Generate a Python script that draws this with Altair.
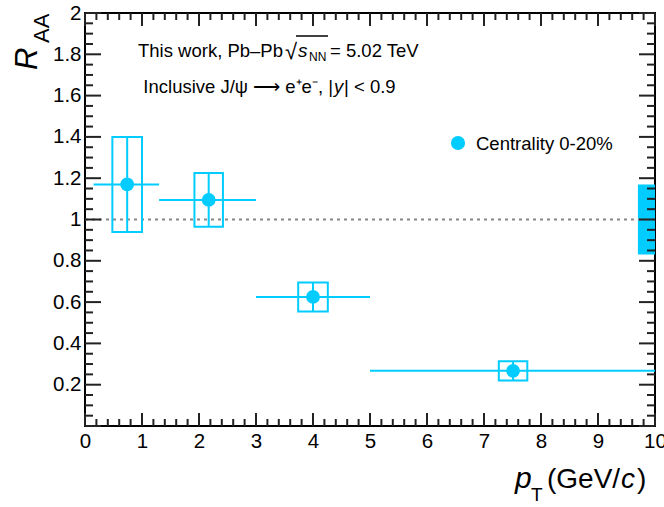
import altair as alt
import pandas as pd

# ---------------- data ----------------
pt = [0.74, 2.17, 4.0, 7.51]
raa = [1.17, 1.095, 0.625, 0.267]
pt_lo = [0.15, 1.3, 3.0, 5.0]
pt_hi = [1.3, 3.0, 5.0, 10.0]
stat_err = [0.23, 0.13, 0.07, 0.047]
syst_err = [0.23, 0.13, 0.07, 0.047]
box_half = [0.26, 0.25, 0.26, 0.25]
global_unc = 0.17
global_box_x = [9.7, 10.0]
ref_level = 1.0

x_major = list(range(0, 11))
x_minor = [round(i * 0.2, 2) for i in range(51) if i % 5]
y_major = [round(i * 0.2, 2) for i in range(11)]
y_minor = [round(i * 0.05, 2) for i in range(41) if i % 4]
y_labels = y_major[1:]

# ---------------- layout ----------------
W, H = 570, 413
PL, PT, PR, PB = 85, 13, 9, 81
C = "#00ccff"
TC = "#222222"
FONT = "Liberation Sans, Arial, sans-serif"

df = pd.DataFrame({
    "pt": pt, "raa": raa, "lo": pt_lo, "hi": pt_hi,
    "stat_lo": [r - e for r, e in zip(raa, stat_err)],
    "stat_hi": [r + e for r, e in zip(raa, stat_err)],
    "sys_lo": [r - e for r, e in zip(raa, syst_err)],
    "sys_hi": [r + e for r, e in zip(raa, syst_err)],
    "box_lo": [p - b for p, b in zip(pt, box_half)],
    "box_hi": [p + b for p, b in zip(pt, box_half)],
})

xs = alt.Scale(domain=[0, 10], nice=False, zero=False)
ys = alt.Scale(domain=[0, 2], nice=False, zero=False)
xaxis = alt.Axis(values=x_major, format="d", labelFontSize=20.5, labelFont=FONT,
                 labelColor="black", ticks=False, domain=False, grid=False,
                 title=None, labelPadding=5, labelFlush=False)
yaxis = alt.Axis(values=y_labels, format="~g", labelFontSize=20.5, labelFont=FONT,
                 labelColor="black", ticks=False, domain=False, grid=False,
                 title=None, labelPadding=4)


def X(f):
    return alt.X(f, type="quantitative", scale=xs, axis=xaxis)


def Y(f):
    return alt.Y(f, type="quantitative", scale=ys, axis=yaxis)


base = alt.Chart(df)

band = alt.Chart(pd.DataFrame({
    "x1": [global_box_x[0]], "x2": [global_box_x[1]],
    "y1": [ref_level - global_unc], "y2": [ref_level + global_unc]})
).mark_rect(color=C).encode(x=X("x1"), x2="x2", y=Y("y1"), y2="y2")

ref = alt.Chart(pd.DataFrame({"x1": [0], "x2": [10], "y": [ref_level]})).mark_rule(
    color="#888888", strokeWidth=2, strokeDash=[3, 4]
).encode(x=X("x1"), x2="x2", y=Y("y"))

boxes = base.mark_rect(fillOpacity=0, stroke=C, strokeWidth=2).encode(
    x=X("box_lo"), x2="box_hi", y=Y("sys_lo"), y2="sys_hi")
hbars = base.mark_rule(color=C, strokeWidth=2).encode(x=X("lo"), x2="hi", y=Y("raa"))
vbars = base.mark_rule(color=C, strokeWidth=2).encode(x=X("pt"), y=Y("stat_lo"), y2="stat_hi")
points = base.mark_circle(color=C, opacity=1, size=190).encode(x=X("pt"), y=Y("raa"))

layers = [band, ref, boxes, hbars, vbars, points]


def ticks(values, axis, side, length):
    d = alt.Chart(pd.DataFrame({"v": values})).mark_rule(color=TC, strokeWidth=2)
    if axis == "x":
        if side == "bottom":
            return d.encode(x=X("v"), y=alt.value(H), y2=alt.value(H - length))
        return d.encode(x=X("v"), y=alt.value(0), y2=alt.value(length))
    if side == "left":
        return d.encode(y=Y("v"), x=alt.value(0), x2=alt.value(length))
    return d.encode(y=Y("v"), x=alt.value(W), x2=alt.value(W - length))


layers += [
    ticks(x_major, "x", "bottom", 13), ticks(x_minor, "x", "bottom", 7),
    ticks(x_major, "x", "top", 13), ticks(x_minor, "x", "top", 7),
    ticks(y_major, "y", "left", 16), ticks(y_minor, "y", "left", 8),
    ticks(y_major, "y", "right", 16), ticks(y_minor, "y", "right", 8),
]

one = pd.DataFrame({"a": [0]})


def txt(s, x, y, size, italic=False, align="left", angle=0):
    kw = dict(align=align, baseline="alphabetic", fontSize=size, font=FONT,
              color="black", text=s)
    if italic:
        kw["fontStyle"] = "italic"
    if angle:
        kw["angle"] = angle
    return alt.Chart(one).mark_text(**kw).encode(x=alt.value(x - PL), y=alt.value(y - PT))


texts = [
    txt("This work, Pb\u2013Pb", 283, 57, 18.5, align="right"),
    txt("\u221a", 285, 59, 22),
    txt("s", 298, 57, 19, italic=True),
    txt("NN", 309, 61, 12),
    txt("= 5.02 TeV", 330, 57, 18.5),
    txt("Inclusive J/\u03c8 \u27f6 e\u207ae\u207b, |", 333, 93, 18.5, align="right"),
    txt("y", 334, 93, 18.5, italic=True),
    txt("| < 0.9", 344, 93, 18.5),
    txt("Centrality 0-20%", 476, 150, 18.5),
    txt("p", 515, 488, 30, italic=True),
    txt("T", 531, 501, 19),
    txt("(GeV/", 547, 488, 28),
    txt("c", 621, 488, 28, italic=True),
    txt(")", 637, 488, 28),
    txt("R", 37, 70, 31, italic=True, angle=270),
    txt("AA", 49, 43, 22, angle=270),
]

overline = alt.Chart(one).mark_rule(color="black", strokeWidth=1.5).encode(
    x=alt.value(296 - PL), x2=alt.value(328 - PL), y=alt.value(36 - PT))
legend_dot = alt.Chart(one).mark_circle(color=C, opacity=1, size=200).encode(
    x=alt.value(458 - PL), y=alt.value(143 - PT))

chart = alt.layer(*layers, overline, legend_dot, *texts).properties(
    width=W, height=H,
    padding={"left": PL, "top": PT, "right": PR, "bottom": PB},
    autosize=alt.AutoSizeParams(type="none"),
).configure_view(stroke="black", strokeWidth=2)

chart.save("out.html", embed_options={"renderer": "svg", "actions": False})
